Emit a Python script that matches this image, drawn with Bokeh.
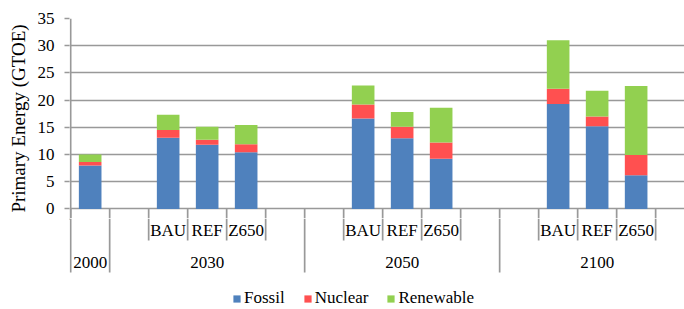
from bokeh.plotting import figure
from bokeh.layouts import column
from bokeh.models import Range1d, FixedTicker, Legend, LegendItem, ColumnDataSource
from bokeh.core.properties import value
from bokeh.embed import file_html
from bokeh.resources import INLINE

# ---- data ----
years = ["2000", "2030", "2050", "2100"]
scenarios = ["BAU", "REF", "Z650"]
bar_labels = ["", "BAU", "REF", "Z650", "BAU", "REF", "Z650", "BAU", "REF", "Z650"]
fossil = [8.0, 13.1, 11.8, 10.4, 16.6, 13.0, 9.2, 19.3, 15.2, 6.2]
nuclear = [0.6, 1.4, 0.9, 1.5, 2.6, 2.1, 3.0, 2.8, 1.8, 3.7]
renewable = [1.4, 2.8, 2.4, 3.5, 3.5, 2.7, 6.4, 8.9, 4.7, 12.7]
y_ticks = [0, 5, 10, 15, 20, 25, 30, 35]
series = ["Fossil", "Nuclear", "Renewable"]
colors = ["#4F81BD", "#FF5050", "#92D050"]

FONT = "Liberation Serif"
GRID = "#999999"
LW = 1.7

# ---- slot layout (one slot per category cell, Excel-like multi-level axis) ----
xs = [0.5]                 # 2000
group_start = [0]
group_end = [1]
short_sep = []
for i in range(1, len(years)):
    s = 1 + 5 * (i - 1)
    group_start.append(s)
    group_end.append(s + 5)
    for k in range(len(scenarios)):
        xs.append(s + 1.5 + k)
    short_sep += [s + 1, s + 2, s + 3, s + 4]
long_sep = sorted(set(group_start + group_end))
group_center = [(a + b) / 2 for a, b in zip(group_start, group_end)]

src = ColumnDataSource(dict(x=xs, Fossil=fossil, Nuclear=nuclear, Renewable=renewable))
xr = Range1d(-0.03, 15.74)
Y0 = -1.765

W = 684
# ---- main chart ----
p = figure(width=W, height=218, x_range=xr, y_range=Range1d(Y0, 35),
           output_backend="svg", toolbar_location=None,
           min_border_left=69, min_border_right=0, min_border_top=18, min_border_bottom=0)
p.outline_line_color = None
p.xaxis.visible = False
p.xgrid.visible = False
p.ygrid.ticker = FixedTicker(ticks=y_ticks)
p.ygrid.grid_line_color = GRID
p.ygrid.grid_line_width = LW

ax = p.yaxis[0]
ax.ticker = FixedTicker(ticks=y_ticks)
ax.axis_line_color = None
ax.major_tick_line_color = GRID
ax.major_tick_line_width = LW
ax.major_tick_out = 5
ax.major_tick_in = 0
ax.minor_tick_line_color = None
ax.major_label_standoff = 10
ax.major_label_text_font = FONT
ax.major_label_text_font_size = "17px"
ax.major_label_text_color = "#000000"
ax.axis_label = "Primary Energy (GTOE)"
ax.axis_label_text_font = FONT
ax.axis_label_text_font_size = "19px"
ax.axis_label_text_font_style = "normal"
ax.axis_label_text_color = "#000000"
ax.axis_label_standoff = 6

p.vbar_stack(series, x="x", width=0.58, source=src, color=colors, line_color=None)
# y-axis line at x = 0 and top parts of category separators
p.segment(x0=[0], y0=[Y0], x1=[0], y1=[35], line_color=GRID, line_width=LW)
seps = short_sep + long_sep
p.segment(x0=seps, y0=[Y0] * len(seps), x1=seps, y1=[0] * len(seps),
          line_color=GRID, line_width=LW)

# ---- category axis (two levels) + legend ----
b = figure(width=W, height=91, x_range=xr, y_range=Range1d(91, 0),
           output_backend="svg", toolbar_location=None,
           min_border_left=69, min_border_right=0, min_border_top=0, min_border_bottom=0)
b.outline_line_color = None
b.axis.visible = False
b.grid.visible = False

b.segment(x0=short_sep, y0=[0] * len(short_sep), x1=short_sep, y1=[22] * len(short_sep),
          line_color=GRID, line_width=LW)
b.segment(x0=long_sep, y0=[0] * len(long_sep), x1=long_sep, y1=[54] * len(long_sep),
          line_color=GRID, line_width=LW)
b.text(x=xs[1:], y=[11.5] * (len(xs) - 1), text=bar_labels[1:],
       text_font=value(FONT), text_font_size="17px", text_align="center",
       text_baseline="middle", text_color="#000000")
b.text(x=group_center, y=[43.5] * len(group_center), text=years,
       text_font=value(FONT), text_font_size="17px", text_align="center",
       text_baseline="middle", text_color="#000000")

items = []
for name, c in zip(series, colors):
    # legend-only swatch renderer, placed outside the visible x range
    r = b.vbar(x=[-10], top=[1], bottom=[0], width=0.5, fill_color=c, line_color=None)
    items.append(LegendItem(label=name, renderers=[r]))
leg = Legend(items=items, orientation="horizontal", location=(163, 1),
             padding=0, margin=0, spacing=18, label_standoff=3,
             glyph_width=9, glyph_height=9, label_height=18,
             label_text_font=FONT, label_text_font_size="17px",
             label_text_color="#000000",
             border_line_color=None, background_fill_alpha=0)
b.add_layout(leg)

layout = column(p, b, spacing=0)
open("out.html", "w").write(file_html(layout, INLINE))
